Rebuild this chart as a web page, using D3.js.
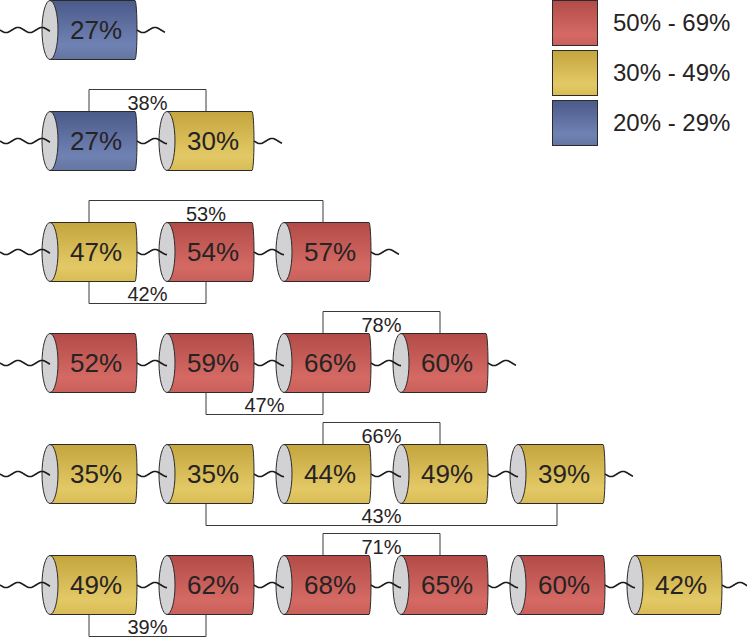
<!DOCTYPE html>
<html>
<head>
<meta charset="utf-8">
<script src="https://cdn.jsdelivr.net/npm/d3@7"></script>
<style>
  body { margin: 0; background: #fff; }
  svg { display: block; font-family: "Liberation Sans", Arial, sans-serif; }
</style>
</head>
<body>
<svg id="chart" width="747" height="637"></svg>
<script>
// Cylinder values, one list per row
const rowValues = [
  [27],
  [27, 30],
  [47, 54, 57],
  [52, 59, 66, 60],
  [35, 35, 44, 49, 39],
  [49, 62, 68, 65, 60, 42]
]

// Brackets joining two cylinders of a row
const linkRows   = [1, 2, 2, 3, 3, 4, 4, 5, 5]
const linkFrom   = [0, 0, 0, 2, 1, 2, 1, 2, 0]
const linkTo     = [1, 2, 1, 3, 2, 3, 4, 3, 1]
const linkValues = [38, 53, 42, 78, 47, 66, 43, 71, 39]
const linkSides  = ["top", "top", "bottom", "top", "bottom", "top", "bottom", "top", "bottom"]

// Legend
const legendLabels = ["50% - 69%", "30% - 49%", "20% - 29%"]
const legendKeys   = ["red", "yellow", "blue"]
const binEdges     = [30, 50]

const svg = d3.select("#chart")

const x = d3.scaleLinear().domain([0, 5]).range([50, 635])
const y = d3.scaleLinear().domain([0, 5]).range([30, 585])

const colorKey = d3.scaleThreshold().domain(binEdges).range(["blue", "yellow", "red"])

const gradients = {
  red:    ["#b24b47", "#d56a64", "#c95f5a"],
  yellow: ["#c4a53e", "#e3c966", "#d8bb55"],
  blue:   ["#4a5a89", "#7082b4", "#64759f"]
}

const defs = svg.append("defs")
Object.entries(gradients).forEach(([key, c]) => {
  const g = defs.append("linearGradient")
    .attr("id", "grad-" + key)
    .attr("x1", 0).attr("y1", 0).attr("x2", 0).attr("y2", 1)
  g.append("stop").attr("offset", "0%").attr("stop-color", c[0])
  g.append("stop").attr("offset", "75%").attr("stop-color", c[1])
  g.append("stop").attr("offset", "100%").attr("stop-color", c[2])
})

const halfH = 29.5   // cylinder half height
const faceRx = 8     // left face radius
const bodyLen = 85   // body length before the rounded right end
const capRx = 2

const wave = d3.line().curve(d3.curveBasis)
function wavePath(x0, x1, cy) {
  const pts = []
  const period = 24, amp = 2.6
  for (let px = x0; px <= x1 + 0.01; px += 1) {
    pts.push([px, cy + amp * Math.sin((px - x0) / period * 2 * Math.PI)])
  }
  return wave(pts)
}

// Rows
rowValues.forEach((vals, r) => {
  const cy = y(r)
  const row = svg.append("g").attr("class", "row")

  vals.forEach((v, i) => {
    const cx = x(i)
    const top = cy - halfH, bot = cy + halfH
    const g = row.append("g").attr("class", "cyl")

    g.append("path")
      .attr("d", `M${cx},${top} L${cx + bodyLen},${top} A${capRx},${halfH} 0 0 1 ${cx + bodyLen},${bot} L${cx},${bot} Z`)
      .attr("fill", `url(#grad-${colorKey(v)})`)
      .attr("stroke", "#2b2b2b")
      .attr("stroke-width", 1)

    g.append("ellipse")
      .attr("cx", cx).attr("cy", cy)
      .attr("rx", faceRx).attr("ry", halfH)
      .attr("fill", "#d2d2d4")
      .attr("stroke", "#2b2b2b")
      .attr("stroke-width", 1)

    g.append("text")
      .attr("x", cx + 46)
      .attr("y", cy)
      .attr("dy", "0.35em")
      .attr("text-anchor", "middle")
      .attr("fill", "#262324")
      .style("font-size", "26px")
      .text(v + "%")
  })

  // Wavy connectors
  const n = vals.length
  const segs = [[0, x(0)]]
  for (let i = 0; i < n - 1; i++) segs.push([x(i) + bodyLen + capRx, x(i + 1)])
  segs.push([x(n - 1) + bodyLen + capRx, x(n - 1) + bodyLen + capRx + 28])
  segs.forEach(([a, b]) => {
    row.append("path")
      .attr("d", wavePath(a, b, cy))
      .attr("fill", "none")
      .attr("stroke", "#1a1a1a")
      .attr("stroke-width", 1.6)
  })
})

// Brackets
const bx = i => x(i) + 39
linkValues.forEach((v, k) => {
  const cy = y(linkRows[k])
  const isTop = linkSides[k] === "top"
  const edge = isTop ? cy - halfH : cy + halfH
  const level = isTop ? cy - 51.5 : cy + 51.5
  const x0 = bx(linkFrom[k]), x1 = bx(linkTo[k])

  svg.append("path")
    .attr("d", `M${x0},${edge} L${x0},${level} L${x1},${level} L${x1},${edge}`)
    .attr("fill", "none")
    .attr("stroke", "#3a3a3a")
    .attr("stroke-width", 1)

  svg.append("text")
    .attr("x", (x0 + x1) / 2)
    .attr("y", isTop ? cy - 38.5 : cy + 41.5)
    .attr("dy", "0.35em")
    .attr("text-anchor", "middle")
    .attr("fill", "#262324")
    .style("font-size", "20px")
    .text(v + "%")
})

// Legend
const legendY = d3.scaleLinear().domain([0, 2]).range([2, 102])
const legend = svg.append("g").attr("class", "legend")
legendLabels.forEach((label, i) => {
  legend.append("rect")
    .attr("x", 552.5).attr("y", legendY(i) - 1.5)
    .attr("width", 45).attr("height", 45)
    .attr("fill", `url(#grad-${legendKeys[i]})`)
    .attr("stroke", "#2b2b2b")
    .attr("stroke-width", 1)
  legend.append("text")
    .attr("x", 613)
    .attr("y", legendY(i) + 21)
    .attr("dy", "0.35em")
    .attr("fill", "#262324")
    .style("font-size", "24px")
    .text(label)
})
</script>
</body>
</html>
